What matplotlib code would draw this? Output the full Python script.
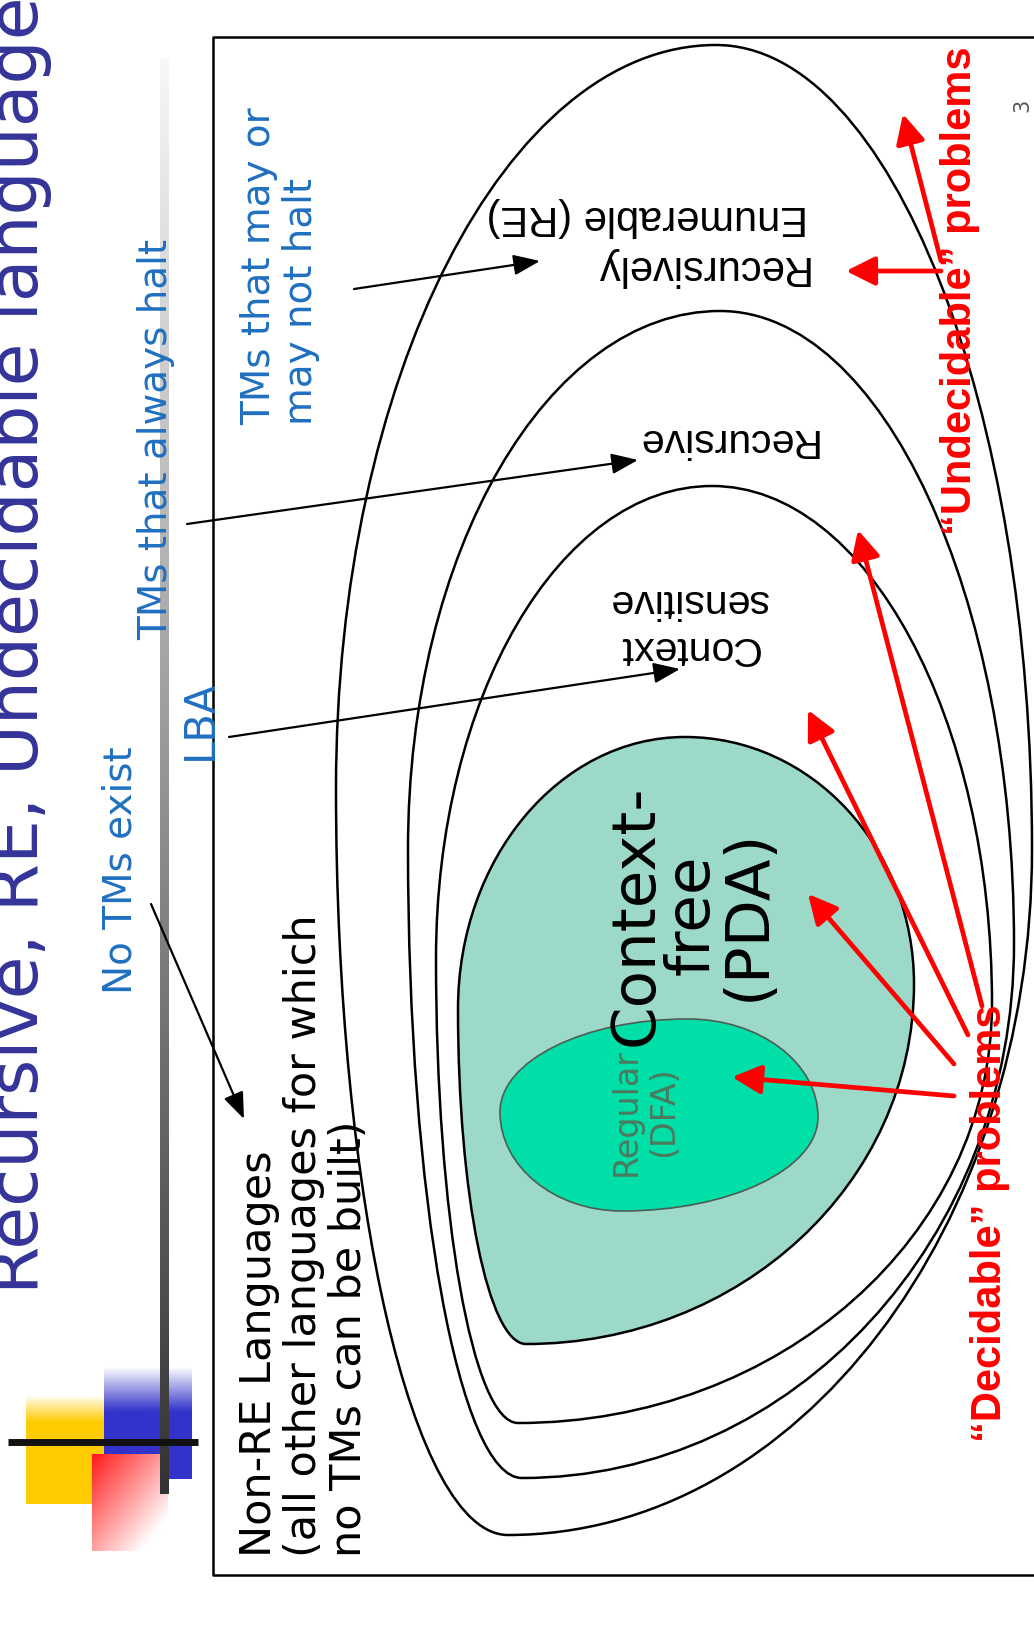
import numpy as np
import matplotlib.pyplot as plt
from matplotlib.path import Path
from matplotlib.patches import PathPatch, FancyArrowPatch
from matplotlib.colors import to_rgb

W, H = 1034, 1633

# nested language classes, extreme points of each closed curve (pixels, y down)
classes = ['RE', 'Recursive', 'Context sensitive', 'Context-free', 'Regular']
top_pts = [(716, 46), (720, 312), (712, 487), (685, 738), (688, 1020)]
right_pts = [(1032, 850), (1014, 945), (992, 1005), (914, 985), (818, 1118)]
bottom_pts = [(508, 1536), (522, 1479), (518, 1424), (526, 1345), (622, 1212)]
left_pts = [(336, 790), (408, 850), (436, 960), (458, 1010), (500, 1113)]
fills = ['none', 'none', 'none', '#9dd9c9', '#00dfa8']
edges = ['black', 'black', 'black', 'black', '#4d5d55']
edge_w = [1.8, 1.8, 1.8, 1.8, 1.2]

# black pointer arrows (from, to)
black_from = [(354, 290), (187, 525), (229, 738), (151, 905)]
black_to = [(540, 262), (638, 461), (680, 670), (244, 1120)]

# red "problems" arrows (from, to)
red_from = [(954, 1097), (954, 1065), (968, 1036), (982, 1007), (941, 272), (941, 262)]
red_to = [(732, 1078), (808, 895), (808, 711), (858, 531), (846, 272), (903, 115)]


def egg(top, right, bottom, left, k=0.5523):
    (xt, yt), (xr, yr), (xb, yb), (xl, yl) = top, right, bottom, left
    verts = [top,
             (xt + k * (xr - xt), yt), (xr, yr - k * (yr - yt)), right,
             (xr, yr + k * (yb - yr)), (xb + k * (xr - xb), yb), bottom,
             (xb - k * (xb - xl), yb), (xl, yl + k * (yb - yl)), left,
             (xl, yl - k * (yl - yt)), (xt - k * (xt - xl), yt), top]
    codes = [Path.MOVETO] + [Path.CURVE4] * 12
    return Path(verts, codes)


fig = plt.figure(figsize=(W / 100, H / 100), dpi=100)
ax = fig.add_axes([0, 0, 1, 1])
ax.axis('off')


def gradient_block(x0, x1, y0, y1, img):
    ax.imshow(img, extent=(x0, x1, y1, y0), origin='upper', aspect='auto',
              interpolation='bilinear', zorder=1)


# logo in the corner
white = np.ones(3)
yel = np.array(to_rgb('#ffcc00'))
t = np.clip(np.linspace(0, 1, 60) / 0.25, 0, 1)[:, None, None]
gradient_block(26, 104, 1395, 1505, white * (1 - t) + yel * t + np.zeros((60, 2, 3)))
blu = np.array(to_rgb('#3333cc'))
t = np.clip(np.linspace(0, 1, 60) / 0.4, 0, 1)[:, None, None]
gradient_block(104, 192, 1367, 1480, white * (1 - t) + blu * t + np.zeros((60, 2, 3)))
red = np.array(to_rgb('#ff1a1a'))
gy, gx = np.mgrid[0:1:60j, 0:1:60j]
t = np.clip(1 - (0.6 * gy + 0.6 * gx), 0, 1)[:, :, None]
gradient_block(92, 168, 1455, 1552, white * (1 - t) + red * t)
gray = np.linspace(0.97, 0.2, 200)[:, None, None] * np.ones((200, 2, 3))
gradient_block(160, 169, 60, 1495, gray)
ax.plot([8, 198], [1443, 1443], color='#111111', lw=5, solid_capstyle='butt', zorder=2)

# frame
ax.plot([W + 10, 213, 213, W + 10], [38, 38, 1576, 1576], color='black', lw=1.8, zorder=2)

for i, name in enumerate(classes):
    p = egg(top_pts[i], right_pts[i], bottom_pts[i], left_pts[i])
    ax.add_patch(PathPatch(p, facecolor=fills[i], edgecolor=edges[i], lw=edge_w[i], zorder=3 + i))

for a, b in zip(black_from, black_to):
    ax.add_patch(FancyArrowPatch(a, b, arrowstyle='-|>,head_length=0.9,head_width=0.35',
                                 mutation_scale=18, color='black', lw=1.6, shrinkA=0, shrinkB=0,
                                 zorder=10))
for a, b in zip(red_from, red_to):
    ax.add_patch(FancyArrowPatch(a, b, arrowstyle='-|>,head_length=0.8,head_width=0.4',
                                 mutation_scale=22, color='#ff0000', lw=3.4, shrinkA=0, shrinkB=0,
                                 zorder=10))


def label(x, y, s, rot, size, color='black', ha='center', va='center', ma='center',
          weight='normal', ls=1.15, family='DejaVu Sans'):
    ax.text(x, y, s, rotation=rot, rotation_mode='anchor', ha=ha, va=va, multialignment=ma,
            fontsize=size, color=color, fontweight=weight, linespacing=ls, zorder=12,
            family=family)


blue_txt = '#2070c0'
arial = ['Liberation Sans', 'DejaVu Sans']
label(38, 1294, 'Recursive, RE, Undecidable languages', 90, 50, color='#333399',
      ha='left', va='baseline')
label(120, 870, 'No TMs exist', 90, 28, color=blue_txt)
label(200, 720, 'LBA', 90, 30, color=blue_txt)
label(156, 440, 'TMs that always halt', 90, 28, color=blue_txt)
label(280, 425, 'TMs that may or\nmay not halt', 90, 28, color=blue_txt, ha='left', ma='left',
      ls=1.1)
label(304, 1557, 'Non-RE Languages\n(all other languages for which\nno TMs can be built)', 90, 31,
      ha='left', ma='left', ls=1.1)
label(808, 242, 'Recursively\nEnumerable (RE)', 180, 30, ha='left', ma='left', ls=1.3,
      family=arial)
label(726, 440, 'Recursive', 180, 29.5, family=arial)
label(688, 625, 'Context\nsensitive', 180, 29.5, ls=1.3, family=arial)
label(692, 915, 'Context-\nfree\n(PDA)', 90, 44, ls=0.94)
label(645, 1112, 'Regular\n(DFA)', 90, 24, color='#4a7a5e', ls=1.2)
label(960, 535, '\u201cUndecidable\u201d problems', 90, 30, color='#ff0000', ha='left',
      weight='bold', family=arial)
label(990, 1442, '\u201cDecidable\u201d problems', 90, 30, color='#ff0000', ha='left',
      weight='bold', family=arial)
label(1022, 105, '3', 90, 15, color='#555555')

ax.set_xlim(0, W)
ax.set_ylim(H, 0)
fig.savefig('out.png', dpi=100, facecolor='white')
